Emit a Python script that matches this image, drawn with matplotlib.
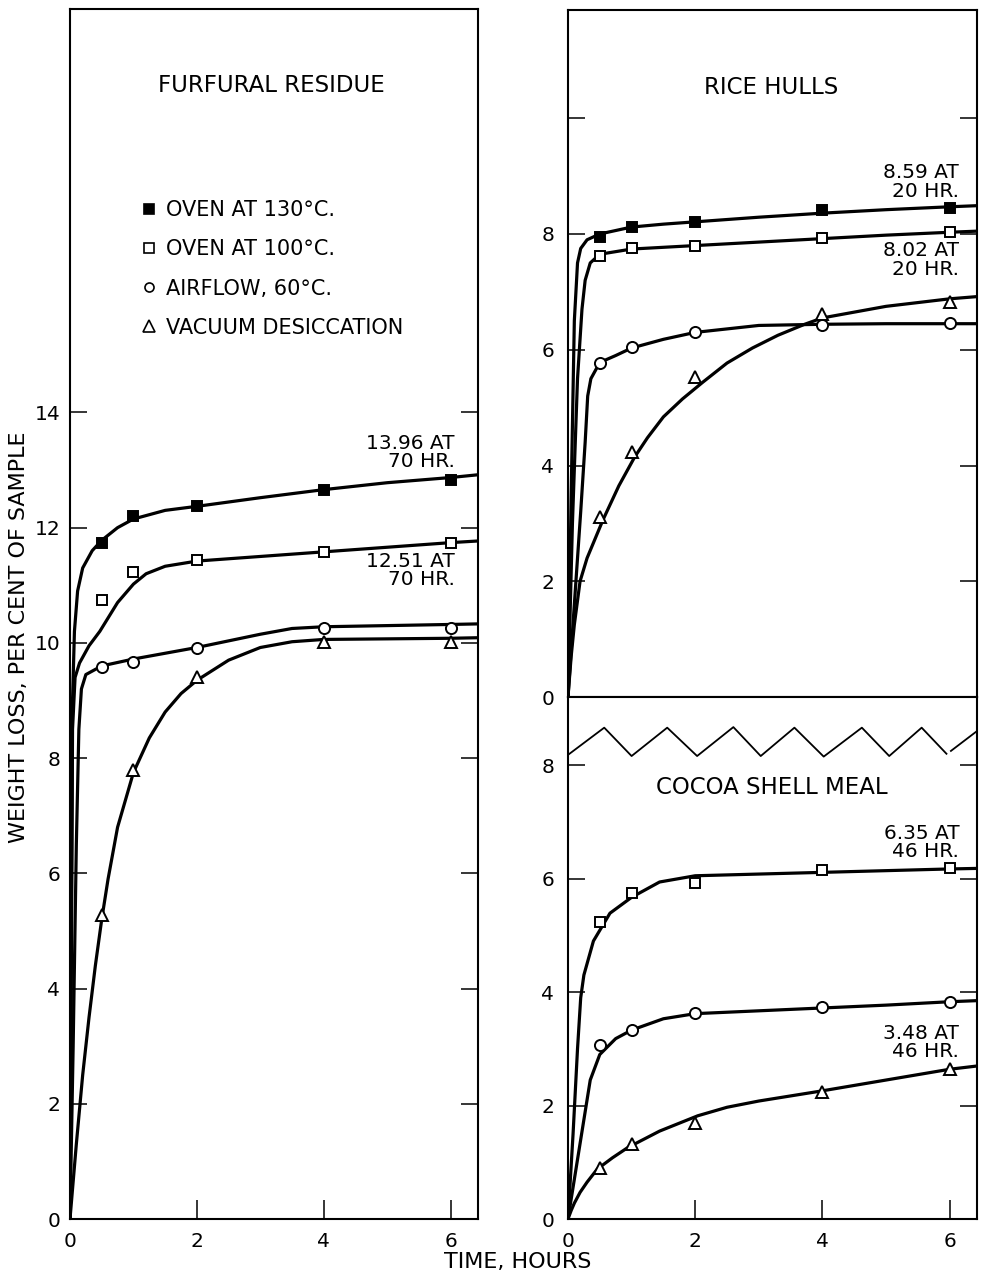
import numpy as np
import matplotlib.pyplot as plt
from matplotlib.lines import Line2D

plt.rcParams['font.family'] = ['DejaVu Sans']

# sampling times (hours) of the plotted points
t_pts = [0.5, 1, 2, 4, 6]

# FURFURAL RESIDUE - measured points
fr_130 = [11.74, 12.21, 12.37, 12.66, 12.83]
fr_100 = [10.75, 11.23, 11.43, 11.58, 11.74]
fr_air = [9.58, 9.67, 9.91, 10.26, 10.26]
fr_vac = [5.27, 7.79, 9.41, 10.02, 10.02]

# RICE HULLS - measured points
rh_130 = [7.95, 8.12, 8.21, 8.42, 8.45]
rh_100 = [7.62, 7.76, 7.79, 7.93, 8.03]
rh_air = [5.77, 6.04, 6.30, 6.42, 6.47]
rh_vac = [3.11, 4.23, 5.53, 6.61, 6.82]

# COCOA SHELL MEAL - measured points
cs_100 = [5.23, 5.74, 5.92, 6.15, 6.18]
cs_air = [3.06, 3.34, 3.64, 3.73, 3.83]
cs_vac = [0.90, 1.32, 1.70, 2.24, 2.65]

# hand drawn curves as (hours, weight loss)
fr_130_curve = [(0, 0), (0.02, 5.0), (0.04, 9.0), (0.07, 10.2), (0.12, 10.9), (0.2, 11.3),
                (0.35, 11.6), (0.5, 11.78), (0.75, 12.0), (1, 12.15), (1.5, 12.3), (2, 12.37),
                (3, 12.52), (4, 12.66), (5, 12.78), (6, 12.87), (6.45, 12.92)]
fr_100_curve = [(0, 0), (0.02, 4.0), (0.04, 8.5), (0.08, 9.4), (0.15, 9.65), (0.3, 9.95),
                (0.47, 10.2), (0.75, 10.7), (1, 11.02), (1.2, 11.2), (1.5, 11.33), (2, 11.42),
                (3, 11.5), (4, 11.58), (5, 11.66), (6, 11.74), (6.45, 11.77)]
fr_air_curve = [(0, 0), (0.05, 3.0), (0.1, 6.5), (0.14, 8.5), (0.18, 9.2), (0.25, 9.45),
                (0.5, 9.6), (1, 9.72), (2, 9.92), (3, 10.15), (3.5, 10.25), (4, 10.28),
                (5, 10.3), (6, 10.32), (6.45, 10.33)]
fr_vac_curve = [(0, 0), (0.1, 1.3), (0.2, 2.5), (0.3, 3.5), (0.4, 4.4), (0.5, 5.2), (0.6, 5.9),
                (0.75, 6.8), (1, 7.75), (1.25, 8.35), (1.5, 8.8), (1.75, 9.12), (2, 9.35),
                (2.5, 9.7), (3, 9.92), (3.5, 10.02), (4, 10.06), (5, 10.07), (6, 10.08),
                (6.45, 10.09)]

rh_130_curve = [(0, 0), (0.05, 3.5), (0.1, 6.5), (0.15, 7.5), (0.2, 7.75), (0.3, 7.9),
                (0.5, 8.0), (1, 8.12), (1.5, 8.17), (2, 8.21), (3, 8.29), (4, 8.36),
                (5, 8.42), (6, 8.47), (6.45, 8.49)]
rh_100_curve = [(0, 0), (0.07, 3.0), (0.15, 5.5), (0.22, 6.7), (0.27, 7.2), (0.35, 7.5),
                (0.5, 7.65), (1, 7.74), (2, 7.8), (3, 7.86), (4, 7.92), (5, 7.98),
                (6, 8.03), (6.45, 8.05)]
rh_air_curve = [(0, 0), (0.1, 1.6), (0.2, 3.2), (0.27, 4.4), (0.31, 5.2), (0.36, 5.5),
                (0.5, 5.78), (0.75, 5.9), (1, 6.03), (1.5, 6.18), (2, 6.3), (3, 6.42),
                (4, 6.44), (5, 6.45), (6, 6.45), (6.45, 6.45)]
rh_vac_curve = [(0, 0), (0.05, 0.7), (0.1, 1.25), (0.19, 2.0), (0.3, 2.4), (0.55, 3.06),
                (0.8, 3.65), (1.05, 4.15), (1.25, 4.48), (1.5, 4.84), (1.8, 5.15), (2.12, 5.44),
                (2.5, 5.77), (2.9, 6.03), (3.3, 6.25), (3.72, 6.44), (4, 6.55), (5, 6.75),
                (6, 6.88), (6.45, 6.92)]

cs_100_curve = [(0, 0), (0.08, 1.5), (0.15, 3.0), (0.2, 3.9), (0.25, 4.3), (0.4, 4.9),
                (0.66, 5.39), (1, 5.67), (1.44, 5.94), (2, 6.05), (3, 6.08), (4, 6.11),
                (5, 6.14), (6, 6.17), (6.45, 6.18)]
cs_air_curve = [(0, 0), (0.1, 0.7), (0.2, 1.4), (0.3, 2.1), (0.35, 2.45), (0.5, 2.9),
                (0.75, 3.18), (1, 3.33), (1.5, 3.53), (2, 3.62), (3, 3.67), (4, 3.72),
                (5, 3.77), (6, 3.83), (6.45, 3.85)]
cs_vac_curve = [(0, 0), (0.05, 0.15), (0.1, 0.28), (0.19, 0.47), (0.3, 0.65), (0.46, 0.88),
                (0.7, 1.08), (0.94, 1.26), (1.44, 1.55), (2.04, 1.82), (2.5, 1.97), (3, 2.08),
                (4, 2.26), (5, 2.45), (6, 2.64), (6.45, 2.70)]

# broken-axis zigzag between the two right panels (cocoa panel units)
brk_main = [(0, 8.18), (0.57, 8.66), (1.0, 8.16), (1.56, 8.66), (2.03, 8.16), (2.6, 8.67),
            (3.03, 8.16), (3.56, 8.66), (4.02, 8.15), (4.62, 8.66), (5.05, 8.16),
            (5.56, 8.66), (5.95, 8.2)]
brk_end = [(6.02, 8.25), (6.43, 8.6)]

legend_labels = ['OVEN AT 130°C.', 'OVEN AT 100°C.', 'AIRFLOW, 60°C.', 'VACUUM DESICCATION']

FS = 14.5
TITLE_FS = 16.5


def curve(ax, pts):
    xy = np.array(pts)
    ax.plot(xy[:, 0], xy[:, 1], color='black', lw=2.3, solid_joinstyle='round',
            solid_capstyle='round', zorder=2)


def points(ax, y, marker, filled=False, ms=7.5):
    ax.plot(t_pts, y, ls='none', marker=marker, ms=ms, mew=1.4, mec='black',
            mfc='black' if filled else 'white', zorder=3)


def note(ax, x, y, txt):
    ax.text(x, y, txt, ha='right', va='center', multialignment='right',
            fontsize=FS, linespacing=0.95)


def style(ax, yticks, ylabels, xlabels=True, ypad=7):
    ax.set_xlim(0, 6.43)
    for s in ax.spines.values():
        s.set_linewidth(1.5)
    ax.set_yticks(yticks)
    ax.set_yticklabels(ylabels)
    ax.tick_params(axis='y', direction='in', left=True, right=True, length=12, width=1.1,
                   labelsize=FS, pad=ypad)
    if xlabels:
        ax.set_xticks([0, 2, 4, 6])
        ax.set_xticklabels(['0', '2', '4', '6'])
        ax.tick_params(axis='x', direction='in', bottom=True, top=False, length=14, width=1.1,
                       labelsize=FS, pad=9)
    else:
        ax.tick_params(axis='x', bottom=False, labelbottom=False)


fig = plt.figure(figsize=(9.83, 12.82), dpi=100)

# --- left: furfural residue
ax1 = fig.add_axes([0.0712, 0.0491, 0.4150, 0.9438])
ax1.set_ylim(0, 21.0)
style(ax1, [0, 2, 4, 6, 8, 10, 12, 14], ['0', '2', '4', '6', '8', '10', '12', '14'])
curve(ax1, fr_130_curve)
curve(ax1, fr_100_curve)
curve(ax1, fr_air_curve)
curve(ax1, fr_vac_curve)
points(ax1, fr_130, 's', filled=True)
points(ax1, fr_100, 's')
points(ax1, fr_air, 'o', ms=8)
points(ax1, fr_vac, '^', ms=9)
ax1.text(0.493, 0.937, 'FURFURAL RESIDUE', transform=ax1.transAxes, ha='center',
         va='center', fontsize=TITLE_FS)
note(ax1, 6.06, 13.3, '13.96 AT\n70 HR.')
note(ax1, 6.06, 11.25, '12.51 AT\n70 HR.')

handles = [
    Line2D([], [], ls='none', marker='s', ms=6.5, mfc='black', mec='black', mew=1.2),
    Line2D([], [], ls='none', marker='s', ms=6.5, mfc='white', mec='black', mew=1.2),
    Line2D([], [], ls='none', marker='o', ms=6.5, mfc='white', mec='black', mew=1.2),
    Line2D([], [], ls='none', marker='^', ms=8, mfc='white', mec='black', mew=1.2),
]
ax1.legend(handles, legend_labels, loc='upper left', bbox_to_anchor=(0.174, 0.842),
           frameon=False, fontsize=15, handlelength=0.8, handletextpad=0.42,
           labelspacing=0.92, borderpad=0, borderaxespad=0)

# --- right top: rice hulls
ax2 = fig.add_axes([0.5778, 0.4563, 0.4161, 0.5359])
ax2.set_ylim(0, 11.87)
style(ax2, [0, 2, 4, 6, 8, 10], ['0', '2', '4', '6', '8', ''], xlabels=False, ypad=10)
curve(ax2, rh_130_curve)
curve(ax2, rh_100_curve)
curve(ax2, rh_air_curve)
curve(ax2, rh_vac_curve)
points(ax2, rh_130, 's', filled=True)
points(ax2, rh_100, 's')
points(ax2, rh_air, 'o', ms=8)
points(ax2, rh_vac, '^', ms=9)
ax2.text(3.2, 10.53, 'RICE HULLS', ha='center', va='center', fontsize=TITLE_FS)
note(ax2, 6.15, 8.9, '8.59 AT\n20 HR.')
note(ax2, 6.15, 7.55, '8.02 AT\n20 HR.')

# --- right bottom: cocoa shell meal
ax3 = fig.add_axes([0.5778, 0.0491, 0.4161, 0.4072])
ax3.set_ylim(0, 9.2)
style(ax3, [0, 2, 4, 6, 8], ['0', '2', '4', '6', '8'], ypad=10)
curve(ax3, cs_100_curve)
curve(ax3, cs_air_curve)
curve(ax3, cs_vac_curve)
points(ax3, cs_100, 's')
points(ax3, cs_air, 'o', ms=8)
points(ax3, cs_vac, '^', ms=9)
bm = np.array(brk_main)
be = np.array(brk_end)
ax3.plot(bm[:, 0], bm[:, 1], color='black', lw=1.3)
ax3.plot(be[:, 0], be[:, 1], color='black', lw=1.3)
ax3.text(3.2, 7.6, 'COCOA SHELL MEAL', ha='center', va='center', fontsize=TITLE_FS)
note(ax3, 6.15, 6.64, '6.35 AT\n46 HR.')
note(ax3, 6.15, 3.11, '3.48 AT\n46 HR.')

fig.text(0.019, 0.503, 'WEIGHT LOSS, PER CENT OF SAMPLE', rotation=90, ha='center',
         va='center', fontsize=16)
fig.text(0.527, 0.0156, 'TIME, HOURS', ha='center', va='center', fontsize=16)

fig.savefig('out.png', dpi=100)
